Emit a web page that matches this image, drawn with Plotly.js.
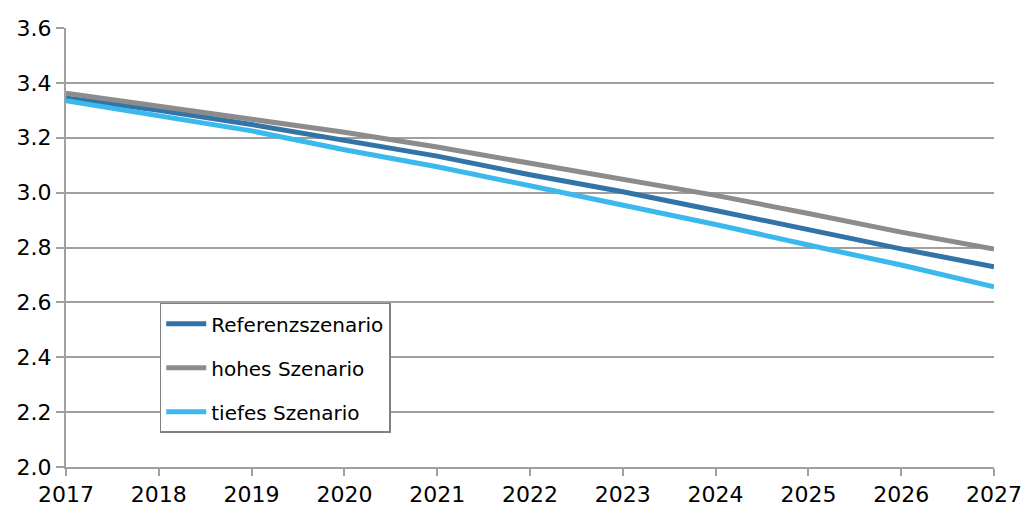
<!DOCTYPE html>
<html>
<head>
<meta charset="utf-8">
<script src="https://cdn.plot.ly/plotly-3.0.1.min.js"></script>
<style>html,body{margin:0;padding:0;background:#fff}#chart{width:1023px;height:507px}</style>
</head>
<body>
<div id="chart"></div>
<script>
const years = [2017, 2018, 2019, 2020, 2021, 2022, 2023, 2024, 2025, 2026, 2027];
const referenz = [3.345, 3.300, 3.248, 3.190, 3.133, 3.065, 3.003, 2.935, 2.863, 2.795, 2.730];
const hoch = [3.362, 3.316, 3.268, 3.220, 3.166, 3.108, 3.050, 2.990, 2.924, 2.856, 2.794];
const tief = [3.335, 3.282, 3.225, 3.156, 3.094, 3.025, 2.956, 2.884, 2.809, 2.736, 2.657];
const seriesNames = ["Referenzszenario", "hohes Szenario", "tiefes Szenario"];
const yTicks = [2.0, 2.2, 2.4, 2.6, 2.8, 3.0, 3.2, 3.4, 3.6];

const colors = ["#3274A8", "#8C8C8C", "#3BB9EC"];
const data = [referenz, hoch, tief].map((vals, i) => ({
  x: years, y: vals, type: "scatter", mode: "lines",
  name: seriesNames[i], legendgroup: "g" + i,
  line: {color: colors[i], width: 5}
}));

const grid = "#A0A0A0";
const layout = {
  width: 1023, height: 507,
  margin: {l: 66, r: 29, t: 28, b: 40},
  paper_bgcolor: "#fff", plot_bgcolor: "#fff",
  font: {family: "DejaVu Sans, sans-serif", size: 22, color: "#000"},
  xaxis: {
    range: [2017, 2027], tickvals: years, ticktext: years.map(String),
    showgrid: false, zeroline: false,
    showline: true, linecolor: grid, linewidth: 2,
    ticks: "outside", ticklen: 7, tickcolor: grid, tickwidth: 2,
    tickfont: {size: 22}
  },
  yaxis: {
    range: [2.0, 3.6], tickvals: yTicks, ticktext: yTicks.map(v => v.toFixed(1)),
    showgrid: true, gridcolor: grid, gridwidth: 2, zeroline: false,
    showline: true, linecolor: grid, linewidth: 2,
    ticks: "outside", ticklen: 8, tickcolor: grid, tickwidth: 2,
    tickfont: {size: 22}
  },
  showlegend: true,
  legend: {
    x: 0.101, y: 0.374, xanchor: "left", yanchor: "top",
    bgcolor: "#fff", bordercolor: "#808080", borderwidth: 1.5,
    font: {size: 20, color: "#000"}, tracegroupgap: 15,
    itemwidth: 40, entrywidth: 275, entrywidthmode: "pixels"
  }
};
Plotly.newPlot("chart", data, layout, {staticPlot: true, displayModeBar: false});
</script>
</body>
</html>
